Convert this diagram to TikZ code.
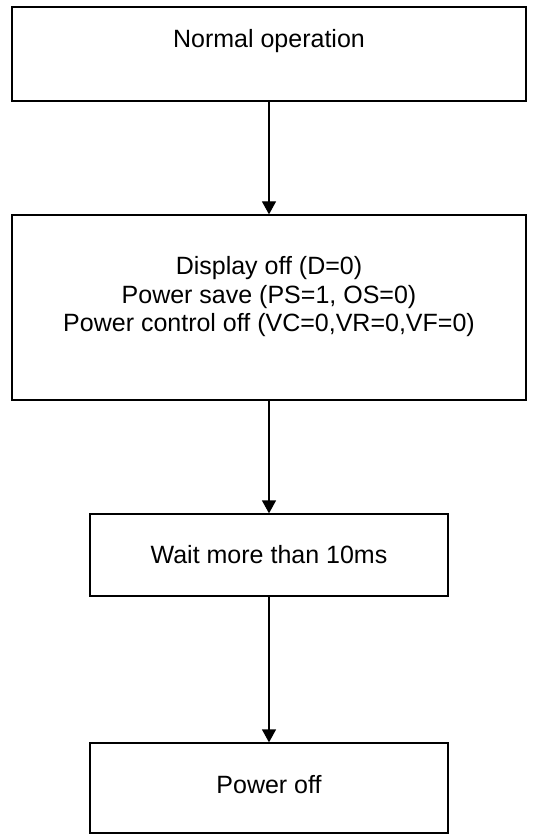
\documentclass[tikz,border=0pt]{standalone}
\usepackage{fontspec}
\setmainfont{Liberation Sans}
\usetikzlibrary{arrows.meta}
\begin{document}
\begin{tikzpicture}[x=1pt,y=-1pt,
  boxstyle/.style={draw=black,line width=1.3pt,inner sep=0pt},
  labelstyle/.style={inner sep=0pt,align=center,font=\fontsize{25}{28.5}\selectfont},
  flowarrow/.style={draw=black,line width=1.3pt,-{Triangle[length=13pt,width=14pt]}}]
\useasboundingbox (0,0) rectangle (541,834);
\node[boxstyle,minimum width=514pt,minimum height=94pt] (n1) at (269,54) {};
\node[labelstyle] (t1) at (269,41) {Normal operation};
\node[boxstyle,minimum width=514pt,minimum height=185pt] (n2) at (269,307.5) {};
\node[labelstyle] (t2) at (269,297) {Display off (D=0)\\Power save (PS=1, OS=0)\\Power control off (VC=0,VR=0,VF=0)};
\node[boxstyle,minimum width=358pt,minimum height=82pt] (n3) at (269,555) {};
\node[labelstyle] (t3) at (269,555) {Wait more than 10ms};
\node[boxstyle,minimum width=358pt,minimum height=90pt] (n4) at (269,788) {};
\node[labelstyle] (t4) at (269,785) {Power off};
\draw[flowarrow] (n1.south) -- (n2.north);
\draw[flowarrow] (n2.south) -- (n3.north);
\draw[flowarrow] (n3.south) -- (n4.north);
\end{tikzpicture}
\end{document}
